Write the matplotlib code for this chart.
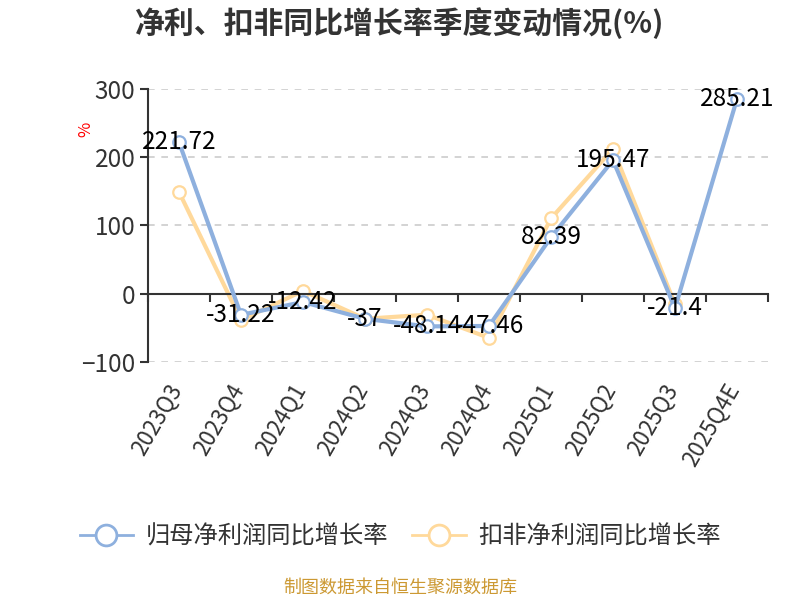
import numpy as np
import matplotlib.pyplot as plt
from matplotlib.lines import Line2D

plt.rcParams['font.family'] = ['Noto Sans CJK SC', 'DejaVu Sans']

# data
quarters = ["2023Q3", "2023Q4", "2024Q1", "2024Q2", "2024Q3",
            "2024Q4", "2025Q1", "2025Q2", "2025Q3", "2025Q4E"]
net_profit_yoy = [221.72, -31.22, -12.42, -37, -48.14,
                  -47.46, 82.39, 195.47, -21.4, 285.21]
deducted_yoy = [149, -39, 4, -37, -31, -65, 110, 212, -16, np.nan]
series_names = ["归母净利润同比增长率", "扣非净利润同比增长率"]

BLUE = "#8EB0DE"
ORANGE = "#FFD99B"
DARK = "#333333"

fig = plt.figure(figsize=(8, 6), dpi=100)
ax = fig.add_axes([0.185, 0.397, 0.775, 0.455])

x = np.arange(len(quarters))

# grid
for v in [-100, 100, 200, 300]:
    ax.axhline(v, color="#cccccc", lw=1.2, ls=(0, (4, 4)), zorder=0)

ax.plot(x, net_profit_yoy, color=BLUE, lw=3, marker="o", ms=9,
        mfc="white", mec=BLUE, mew=1.6, zorder=3)
ax.plot(x, deducted_yoy, color=ORANGE, lw=3, marker="o", ms=9,
        mfc="white", mec=ORANGE, mew=1.6, zorder=2)

for xi, v in zip(x, net_profit_yoy):
    ax.text(xi, v, f"{v:g}", ha="center", va="center", fontsize=17.5,
            color="black", zorder=5)

ax.set_xlim(-0.5, len(quarters) - 0.5)
ax.set_ylim(-100, 300)
ax.set_yticks([-100, 0, 100, 200, 300])
ax.tick_params(axis="y", labelsize=17.5, labelcolor=DARK, color=DARK,
               length=6, width=1.5, pad=3)

# x axis line sits on zero, ticks at category boundaries
ax.spines["bottom"].set_position(("data", 0))
ax.spines["bottom"].set_color(DARK)
ax.spines["bottom"].set_linewidth(1.5)
ax.spines["left"].set_color(DARK)
ax.spines["left"].set_linewidth(1.5)
ax.spines["top"].set_visible(False)
ax.spines["right"].set_visible(False)
ax.set_xticks(np.arange(len(quarters) + 1) - 0.5)
ax.set_xticklabels([])
ax.tick_params(axis="x", color=DARK, length=6, width=1.5)

# category labels below the plot area
for xi, q in zip(x, quarters):
    ax.annotate(q, xy=(xi, 0), xycoords=ax.get_xaxis_transform(),
                xytext=(-2, -17), textcoords="offset points",
                rotation=60, rotation_mode="anchor", ha="right", va="center",
                fontsize=16, color=DARK)

ax.text(-0.10, 0.85, "%", transform=ax.transAxes, rotation=90,
        color="red", fontsize=12, ha="center", va="center")

fig.text(0.5, 0.962, "净利、扣非同比增长率季度变动情况(%)", ha="center",
         va="center", fontsize=21.5, fontweight="bold", color=DARK)

handles = [
    Line2D([], [], color=BLUE, lw=2, marker="o", ms=15, mfc="white",
           mec=BLUE, mew=2),
    Line2D([], [], color=ORANGE, lw=2, marker="o", ms=15, mfc="white",
           mec=ORANGE, mew=2),
]
fig.legend(handles, series_names, loc="center", bbox_to_anchor=(0.5, 0.105),
           ncol=2, frameon=False, fontsize=17.5, handlelength=2.2,
           columnspacing=1.0, handletextpad=0.5, labelcolor=DARK)

fig.text(0.5, 0.02, "制图数据来自恒生聚源数据库", ha="center", va="center",
         fontsize=13, color="#CC9933")

fig.savefig("out.png", dpi=100)
